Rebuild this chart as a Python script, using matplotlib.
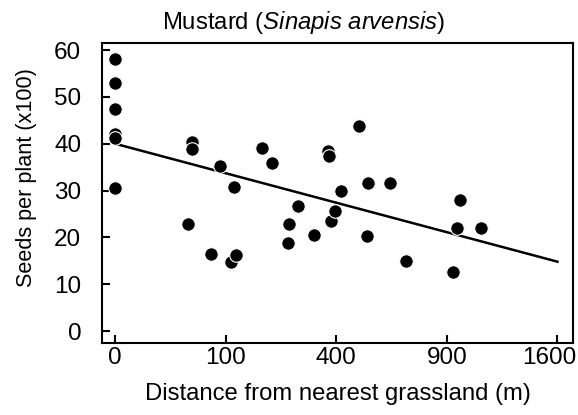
import numpy as np
import matplotlib
matplotlib.use("Agg")
import matplotlib.pyplot as plt
import matplotlib.transforms as mtransforms

plt.rcParams['font.family'] = ['Liberation Sans', 'DejaVu Sans']
plt.rcParams['mathtext.fontset'] = 'custom'
plt.rcParams['mathtext.rm'] = 'Liberation Sans'
plt.rcParams['mathtext.it'] = 'Liberation Sans:italic'

# distance (m) and seeds per plant (x100)
distance = [0, 0, 0, 0, 0, 0, 43, 48, 48, 76, 90, 110, 116, 119, 176, 201,
            246, 248, 274, 323, 371, 375, 380, 395, 418, 485, 517, 525, 618,
            691, 934, 956, 973, 1093]
seeds = [58, 53, 47.3, 42, 41.2, 30.5, 22.8, 40.4, 38.9, 16.4, 35.3, 14.8,
         30.8, 16.2, 39.0, 35.8, 18.7, 22.8, 26.6, 20.5, 38.5, 37.3, 23.4,
         25.6, 29.9, 43.7, 20.2, 31.7, 31.5, 15.0, 12.5, 21.9, 28.0, 22.0]

# fitted line end points
line_x = [0, 1600]
line_y = [40.0, 14.8]

x_ticks = [0, 100, 400, 900, 1600]
y_ticks = [0, 10, 20, 30, 40, 50, 60]


def fwd(v):
    v = np.asarray(v, dtype=float)
    return np.sign(v) * np.sqrt(np.abs(v))


def inv(v):
    v = np.asarray(v, dtype=float)
    return np.sign(v) * v ** 2


fig = plt.figure(figsize=(5.78, 4.15), dpi=100)
ax = fig.add_axes([0.1765, 0.1735, 0.8148, 0.7229])
ax.set_xscale('function', functions=(fwd, inv))

ax.plot(line_x, line_y, color='black', lw=1.8, zorder=2)
ax.scatter(distance, seeds, s=95, color='black', edgecolors='white',
           linewidths=0.8, zorder=3)

ax.set_xlim(-1.37, 1714)
ax.set_ylim(-2.56, 61.5)
ax.set_xticks(x_ticks)
ax.set_yticks(y_ticks)
ax.tick_params(direction='in', length=6, width=1.5, labelsize=17.5)
ax.tick_params(axis='y', pad=15)
ax.tick_params(axis='x', pad=3)
for s in ax.spines.values():
    s.set_linewidth(1.5)

# last x label sits a little left of its tick, as in the original
last = ax.get_xticklabels()[-1]
last.set_transform(last.get_transform() +
                   mtransforms.ScaledTranslation(-8 / 100, 0, fig.dpi_scale_trans))

fig.text(0.526, 0.93, r'Mustard ($\mathit{Sinapis\ arvensis}$)',
         fontsize=17.2, ha='center', va='baseline')
ax.set_xlabel('Distance from nearest grassland (m)', fontsize=17.2, labelpad=10)
ax.set_ylabel('Seeds per plant (x100)', fontsize=15.6)
ax.yaxis.set_label_coords(-0.138, 0.552)

fig.savefig('out.png', dpi=100)
